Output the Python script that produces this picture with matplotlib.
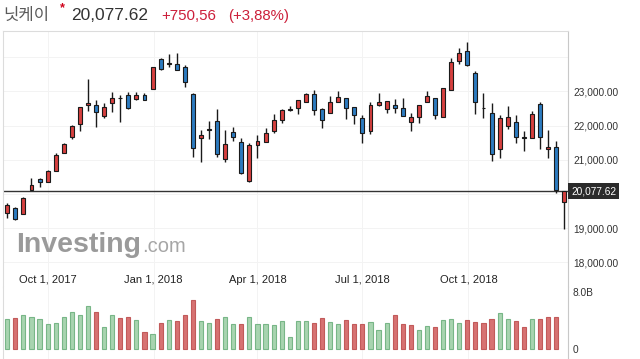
import numpy as np
import pandas as pd
import matplotlib
matplotlib.use('Agg')
import matplotlib.pyplot as plt
import matplotlib.dates as mdates
from matplotlib.transforms import blended_transform_factory

plt.rcParams['font.family'] = ['Liberation Sans', 'Noto Sans CJK KR', 'DejaVu Sans']

# weekly candles, week starting Sunday
weeks = pd.date_range('2017-08-27', periods=70, freq='7D')

opens = [19461, 19588, 19422, 20114, 20436, 20368, 20670, 21196, 21684, 22045,
         22600, 22600, 22279, 22659, 22815, 22893, 22776, 22893, 23068, 23946,
         23805, 23800, 23712, 22922, 21635, 21879, 22132, 21021, 21811, 21528,
         20397, 21430, 21518, 21840, 22162, 22460, 22512, 22688, 22922, 22483,
         22366, 22688, 22805, 22542, 22220, 21840, 22600, 22483, 22600, 22512,
         22103, 22249, 22688, 22805, 22249, 23039, 23887, 24180, 23536, 22508,
         22366, 21313, 21986, 22103, 21656, 21635, 22630, 21313, 21372, 19763]
highs = [19734, 19617, 19919, 20465, 20485, 20709, 21196, 21499, 22035, 22561,
         23380, 22747, 22659, 22981, 22902, 22981, 22981, 22951, 23712, 23975,
         24102, 24131, 23780, 22942, 21869, 22132, 22493, 21879, 21957, 21635,
         21489, 21733, 21928, 22347, 22493, 22581, 22757, 22951, 23039, 22532,
         22863, 23000, 22805, 22542, 22308, 22688, 22951, 22717, 22776, 22805,
         22366, 22600, 23010, 22805, 23098, 23975, 24268, 24443, 23595, 22951,
         22659, 22308, 22571, 22308, 21840, 22425, 22688, 21869, 21547, 20090]
lows = [19295, 19237, 19412, 20114, 20221, 20368, 20670, 21196, 21625, 21859,
        22444, 21976, 22220, 22386, 22122, 22474, 22737, 22747, 23068, 23624,
        23712, 23624, 23117, 21099, 20953, 21625, 21089, 20953, 21567, 20582,
        20348, 21070, 21518, 21772, 22074, 22425, 22347, 22688, 22327, 21947,
        22366, 22688, 22191, 22045, 21489, 21752, 22571, 22357, 22357, 22279,
        21859, 22074, 22688, 22191, 22249, 23039, 23800, 23741, 22337, 22220,
        20982, 21050, 21898, 21489, 21255, 21635, 21313, 21070, 20026, 18973]
closes = [19685, 19276, 19880, 20280, 20348, 20680, 21138, 21460, 21996, 22542,
          22659, 22396, 22542, 22805, 22800, 22532, 22893, 22747, 23712, 23653,
          23815, 23624, 23273, 21362, 21723, 21884, 21167, 21469, 21664, 20611,
          21430, 21557, 21781, 22162, 22454, 22468, 22747, 22922, 22454, 22162,
          22688, 22834, 22512, 22308, 21781, 22600, 22688, 22717, 22512, 22279,
          22249, 22600, 22863, 22308, 23098, 23858, 24121, 23770, 22688, 22512,
          21167, 22220, 22249, 21664, 21650, 22337, 21664, 21372, 20134, 20077.62]
# volume in billions (current week not shown)
volumes = [4.2, 4.35, 4.8, 4.5, 4.2, 3.5, 3.65, 4.5, 5.2, 4.8,
           6.0, 5.2, 3.1, 4.8, 4.35, 4.5, 4.05, 2.4, 2.1, 3.65,
           4.05, 3.9, 4.8, 6.9, 3.9, 3.65, 4.2, 4.5, 3.5, 3.5,
           4.5, 3.5, 3.5, 3.35, 3.9, 1.7, 3.9, 3.9, 3.65, 4.35,
           3.8, 3.5, 4.05, 3.5, 3.5, 3.8, 2.65, 3.65, 4.8, 3.5,
           3.35, 2.65, 3.2, 3.1, 4.05, 4.2, 3.65, 4.05, 3.8, 3.65,
           4.2, 5.05, 4.2, 3.9, 3.1, 4.2, 4.2, 4.5, 4.5]

date_ticks = ['2017-10-01', '2018-01-01', '2018-04-01', '2018-07-01', '2018-10-01']
date_labels = ['Oct 1, 2017', 'Jan 1, 2018', 'Apr 1, 2018', 'Jul 1, 2018', 'Oct 1, 2018']
price_ticks = [18000, 19000, 20000, 21000, 22000, 23000, 24000]
price_labels = ['18,000.00', '19,000.00', '', '21,000.00', '22,000.00', '23,000.00', '']
last_close = 20077.62

RED, BLUE = '#d6403f', '#2c7bc0'
GRID = '#f3f3f3'

o = np.array(opens, float)
h = np.array(highs, float)
l = np.array(lows, float)
c = np.array(closes, float)
x = mdates.date2num(weeks)

fig = plt.figure(figsize=(6.4, 3.59), dpi=100)


def box(left, top, right, bottom):
    return [left / 640, 1 - bottom / 359, (right - left) / 640, (bottom - top) / 359]


ax = fig.add_axes(box(3, 31, 568, 287))
axv = fig.add_axes(box(3, 287, 568, 359))

# candles
ax.vlines(x, l, h, color='#1a1a1a', lw=1, zorder=2)
body = np.maximum(np.abs(c - o), 15)
ax.bar(x, body, bottom=np.minimum(o, c), width=3.4,
       color=np.where(c >= o, RED, BLUE), edgecolor='#1a1a1a', lw=0.8, zorder=3)
ax.axhline(last_close, color='#333333', lw=1, zorder=1.5)

xlim = (x[0] - 3.7, x[0] + 486.3)
ax.set_xlim(xlim)
ax.set_ylim(23000 - (287 - 91.5) / 34.2 * 1000, 23000 + (91.5 - 31) / 34.2 * 1000)
ax.set_xticks(mdates.date2num(pd.to_datetime(date_ticks)))
ax.set_yticks(price_ticks, price_labels)
ax.yaxis.tick_right()
ax.tick_params(axis='x', length=0, labelbottom=False)
ax.tick_params(axis='y', length=0, pad=3.6, labelsize=7.3, labelcolor='#333333')
ax.grid(color=GRID, lw=0.7, zorder=0)
ax.set_axisbelow(True)

tr = blended_transform_factory(ax.transAxes, ax.transData)
ax.text(1.0 + 3 / 565, last_close, '{:,.2f}'.format(last_close), transform=tr,
        ha='left', va='center', color='white', fontsize=7.3,
        bbox=dict(boxstyle='square,pad=0.3', fc='#2b2b2b', ec='none'), zorder=5)

# volume, coloured by close vs previous close
prev = np.concatenate([[o[0]], c[:-1]])
vol_up = (c >= prev)[:len(volumes)]
axv.bar(x[:len(volumes)], volumes, width=3.6,
        color=np.where(vol_up, '#a8d4b0', '#d77272'),
        edgecolor=np.where(vol_up, '#78b687', '#c25a5a'), lw=0.8, zorder=3)
axv.set_xlim(xlim)
axv.set_ylim(-(359 - 349) / 7.125, (349 - 287) / 7.125)
axv.set_yticks([0, 8], ['0', '8.0B'])
axv.yaxis.tick_right()
axv.xaxis.tick_top()
axv.set_xticks(mdates.date2num(pd.to_datetime(date_ticks)), date_labels)
axv.tick_params(axis='x', length=0, pad=1.5, labelsize=8, labelcolor='#222222')
axv.tick_params(axis='y', length=0, pad=3, labelsize=7.3, labelcolor='#333333')
axv.grid(axis='x', color=GRID, lw=0.7, zorder=0)
axv.set_axisbelow(True)

for a in (ax, axv):
    a.spines['bottom'].set_visible(False)
    for s in ('left', 'top', 'right'):
        a.spines[s].set_color('#dcdcdc')
    a.spines['right'].set_color('#c8c8c8')
axv.spines['top'].set_visible(False)

# header
fig.text(3 / 640, 1 - 20 / 359, '닛케이', fontsize=12, color='#5a5a5a',
         family=['Noto Sans CJK KR', 'DejaVu Sans'], va='baseline')
fig.text(60 / 640, 1 - 2 / 359, '*', fontsize=9, color='#d0021b', weight='bold', va='top')
fig.text(71 / 640, 1 - 20 / 359, '20,077.62', fontsize=12.5, color='#333333', va='baseline')
fig.text(161 / 640, 1 - 20 / 359, '+750,56', fontsize=10.8, color='#cc1f3a', va='baseline')
fig.text(228 / 640, 1 - 20 / 359, '(+3,88%)', fontsize=10.8, color='#cc1f3a', va='baseline')

# watermark
logo = fig.text(16 / 640, 1 - 252 / 359, 'Investing', fontsize=20.5, weight='bold',
                color='#9a9a9a', va='baseline')
fig.canvas.draw()
right_px = logo.get_window_extent().x1
fig.text((right_px + 1) / 640, 1 - 252 / 359, '.com', fontsize=14.5, color='#a6a6a6',
         va='baseline')

fig.savefig('out.png', dpi=100)
